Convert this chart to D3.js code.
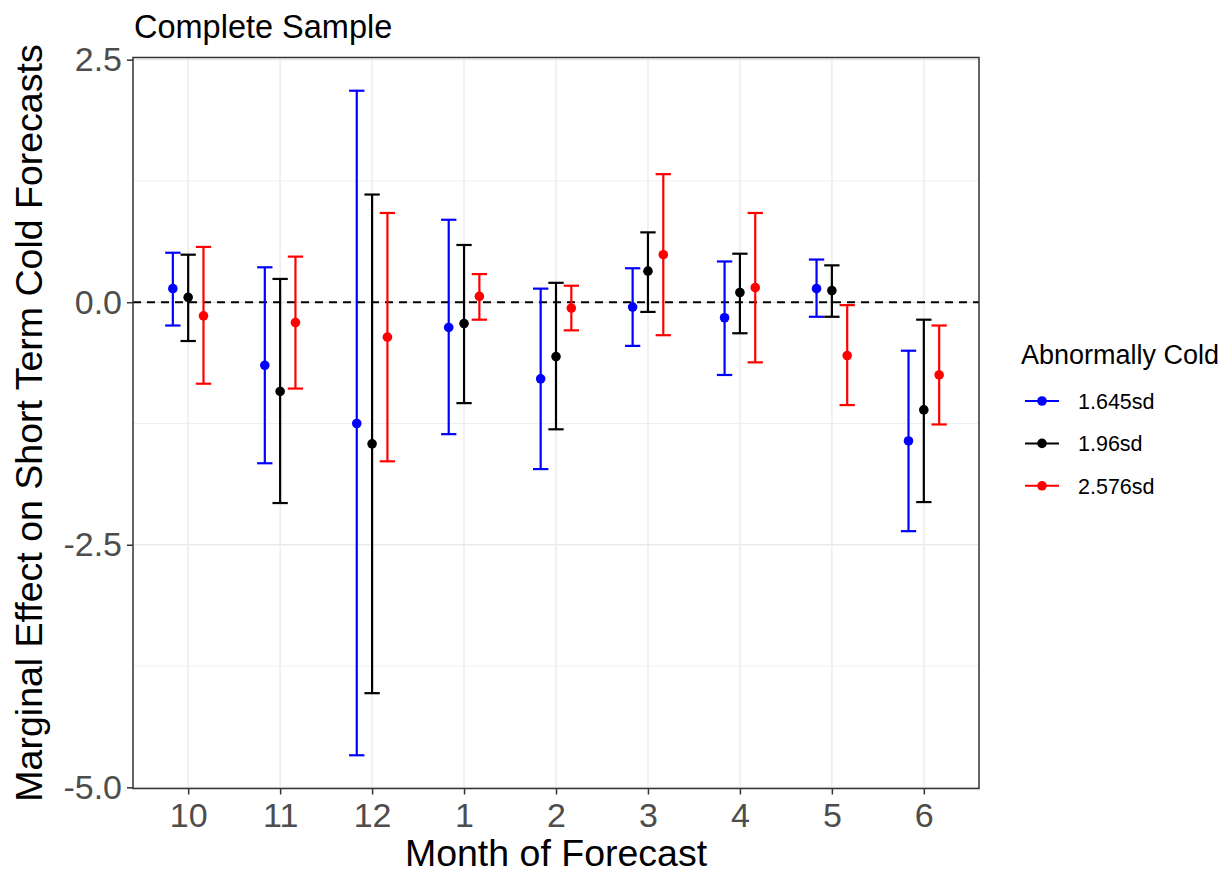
<!DOCTYPE html><html>
<head>
<meta charset="utf-8">
<script src="https://cdn.jsdelivr.net/npm/d3@7"></script>
<style>
* { font-family: "Liberation Sans", Arial, sans-serif; }
body { margin: 0; padding: 0; background-color: #ffffff; }
svg { display: block; }
.grid-major { stroke: #ebebeb; stroke-width: 1.4px; }
.grid-minor { stroke: #ebebeb; stroke-width: 0.8px; }
.tick-label { fill: #4d4d4d; font-size: 34px; }
.axis-title { fill: #000000; font-size: 37.5px; }
</style>
</head>
<body>
<svg id="chart" width="1225" height="875"></svg>
<script>
// months along the x axis, in plot order
var months = ["10", "11", "12", "1", "2", "3", "4", "5", "6"];
var groups = ["1.645sd", "1.96sd", "2.576sd"];
var colors = ["#0000ff", "#000000", "#ff0000"];

// point estimates
var est_1645 = [0.14, -0.65, -1.25, -0.26, -0.79, -0.05, -0.16, 0.14, -1.43];
var est_196  = [0.05, -0.92, -1.46, -0.22, -0.56, 0.32, 0.10, 0.12, -1.11];
var est_2576 = [-0.14, -0.21, -0.36, 0.06, -0.06, 0.49, 0.15, -0.55, -0.75];

// confidence interval bounds
var lo_1645 = [-0.24, -1.66, -4.67, -1.36, -1.72, -0.45, -0.75, -0.15, -2.36];
var hi_1645 = [0.51, 0.36, 2.18, 0.85, 0.14, 0.35, 0.42, 0.44, -0.50];
var lo_196  = [-0.40, -2.07, -4.03, -1.04, -1.31, -0.10, -0.32, -0.15, -2.06];
var hi_196  = [0.49, 0.24, 1.11, 0.59, 0.20, 0.72, 0.50, 0.38, -0.18];
var lo_2576 = [-0.84, -0.89, -1.64, -0.18, -0.29, -0.34, -0.62, -1.06, -1.26];
var hi_2576 = [0.57, 0.47, 0.92, 0.29, 0.17, 1.32, 0.92, -0.03, -0.24];

var yTicks = [-5.0, -2.5, 0.0, 2.5];
var yMinor = [-3.75, -1.25, 1.25];

var rows = [];
var series = [[est_1645, lo_1645, hi_1645], [est_196, lo_196, hi_196], [est_2576, lo_2576, hi_2576]];
series.forEach(function(s, gi) {
    months.forEach(function(m, i) {
        rows.push({month: m, group: groups[gi], g: gi, est: s[0][i], lo: s[1][i], hi: s[2][i]});
    });
});

var svg = d3.select("#chart");
var panel = {left: 133, right: 979, top: 57.5, bottom: 788.5};

var x = d3.scalePoint().domain(months).range([panel.left, panel.right]).padding(0.6);
var step = x.step();
var dodge = step * 0.5 / 3;

var ymin = d3.min(rows, d => d.lo), ymax = d3.max(rows, d => d.hi);
var pad = (ymax - ymin) * 0.05;
var y = d3.scaleLinear().domain([ymin - pad, ymax + pad]).range([panel.bottom, panel.top]);

var color = d3.scaleOrdinal().domain(groups).range(colors);

// background grid
var grid = svg.append("g");
grid.selectAll("line.ym").data(yMinor).enter().append("line")
    .attr("class", "grid-minor")
    .attr("x1", panel.left).attr("x2", panel.right)
    .attr("y1", d => y(d)).attr("y2", d => y(d));
grid.selectAll("line.yM").data(yTicks).enter().append("line")
    .attr("class", "grid-major")
    .attr("x1", panel.left).attr("x2", panel.right)
    .attr("y1", d => y(d)).attr("y2", d => y(d));
grid.selectAll("line.xM").data(months).enter().append("line")
    .attr("class", "grid-major")
    .attr("x1", d => x(d)).attr("x2", d => x(d))
    .attr("y1", panel.top).attr("y2", panel.bottom);

// zero reference line
svg.append("line")
    .attr("x1", panel.left).attr("x2", panel.right)
    .attr("y1", y(0)).attr("y2", y(0))
    .style("stroke", "#000").style("stroke-width", 2).style("stroke-dasharray", "8,6");

var cx = d => x(d.month) + (d.g - 1) * dodge;
var cap = step * 0.5 / 6;

var bars = svg.append("g").selectAll("g").data(rows).enter().append("g")
    .style("stroke", d => color(d.group)).style("stroke-width", 2.2);
bars.append("line")
    .attr("x1", cx).attr("x2", cx)
    .attr("y1", d => y(d.lo)).attr("y2", d => y(d.hi));
bars.append("line")
    .attr("x1", d => cx(d) - cap).attr("x2", d => cx(d) + cap)
    .attr("y1", d => y(d.lo)).attr("y2", d => y(d.lo));
bars.append("line")
    .attr("x1", d => cx(d) - cap).attr("x2", d => cx(d) + cap)
    .attr("y1", d => y(d.hi)).attr("y2", d => y(d.hi));

svg.append("g").selectAll("circle").data(rows).enter().append("circle")
    .attr("cx", cx).attr("cy", d => y(d.est)).attr("r", 4.8)
    .style("fill", d => color(d.group));

// panel border
svg.append("rect")
    .attr("x", panel.left).attr("y", panel.top)
    .attr("width", panel.right - panel.left).attr("height", panel.bottom - panel.top)
    .style("fill", "none").style("stroke", "#333333").style("stroke-width", 1.5);

// axes
var yAxis = svg.append("g").attr("transform", "translate(" + panel.left + ",0)")
    .call(d3.axisLeft(y).tickValues(yTicks).tickFormat(d3.format(".1f")).tickSize(6).tickPadding(5));
var xAxis = svg.append("g").attr("transform", "translate(0," + panel.bottom + ")")
    .call(d3.axisBottom(x).tickSize(6).tickPadding(8));
[xAxis, yAxis].forEach(function(a) {
    a.select(".domain").remove();
    a.selectAll(".tick line").style("stroke", "#333333").style("stroke-width", 1.5);
    a.selectAll(".tick text").attr("class", "tick-label").attr("font-family", null).attr("font-size", null);
});
yAxis.selectAll(".tick text").text(d => d3.format(".1f")(d).replace("−", "-"));

// titles
svg.append("text").attr("x", 134).attr("y", 37.5)
    .style("font-size", "32.5px").style("fill", "#000").text("Complete Sample");
svg.append("text").attr("class", "axis-title")
    .attr("x", (panel.left + panel.right) / 2).attr("y", 866)
    .attr("text-anchor", "middle").text("Month of Forecast");
svg.append("text").attr("class", "axis-title")
    .attr("transform", "translate(42," + (panel.top + panel.bottom) / 2 + ") rotate(-90)")
    .attr("text-anchor", "middle").text("Marginal Effect on Short Term Cold Forecasts");

// legend
var legend = svg.append("g");
legend.append("text").attr("x", 1021).attr("y", 364)
    .style("font-size", "27px").style("fill", "#000").text("Abnormally Cold");
var keys = legend.selectAll("g.key").data(groups).enter().append("g")
    .attr("transform", (d, i) => "translate(0," + (401 + i * 42.4) + ")");
keys.append("line").attr("x1", 1025).attr("x2", 1059).attr("y1", 0).attr("y2", 0)
    .style("stroke", d => color(d)).style("stroke-width", 2);
keys.append("circle").attr("cx", 1042).attr("cy", 0).attr("r", 4.8)
    .style("fill", d => color(d));
keys.append("text").attr("x", 1078).attr("y", 8)
    .style("font-size", "21.5px").style("fill", "#000").text(d => d);
</script>
</body>
</html>
